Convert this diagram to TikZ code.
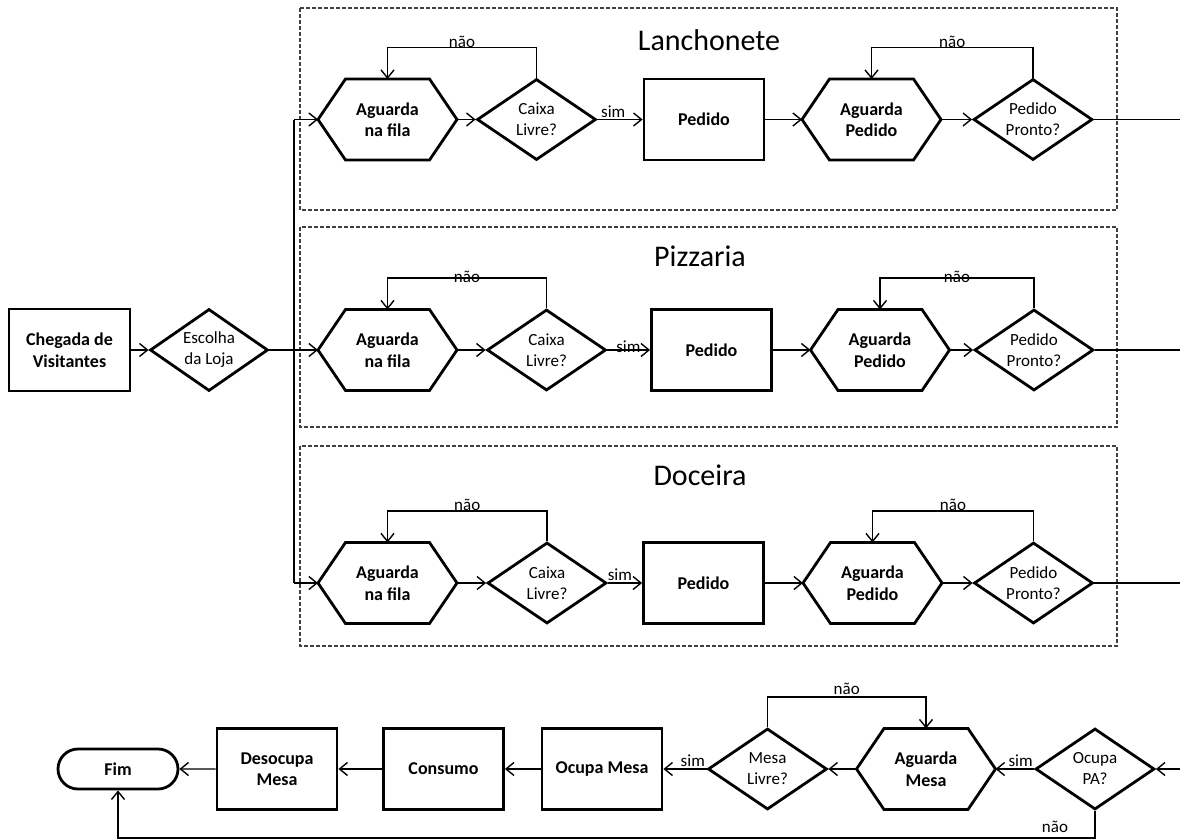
\documentclass[tikz,border=0pt]{standalone}
\usepackage{fontspec}
\setmainfont{Carlito}
\usetikzlibrary{shapes.geometric,shapes.misc,arrows.meta,calc}
\newcommand\fbold{\fontsize{18}{21.5}\selectfont\bfseries}
\newcommand\fplain{\fontsize{17}{21}\selectfont}
\newcommand\flabel{\fontsize{17}{19}\selectfont}
\newcommand\ftitle{\fontsize{30}{36}\selectfont}
\begin{document}
\begin{tikzpicture}[x=1pt,y=-1pt,
  shapeline/.style={line width=2.8pt, line join=miter},
  box/.style={draw, shapeline, rectangle, minimum width=120pt, minimum height=81pt,
    inner sep=0pt, align=center, font=\fbold},
  hexa/.style={rectangle, minimum width=139pt, minimum height=81pt, inner sep=0pt,
    outer sep=0pt, align=center, font=\fbold},
  decide/.style={draw, shapeline, diamond, aspect=1.5, minimum width=119pt,
    minimum height=81pt, inner sep=0pt, align=center, font=\fplain},
  term/.style={draw, shapeline, rounded rectangle, minimum width=120pt,
    minimum height=40pt, inner sep=0pt, font=\fbold},
  arr/.style={line width=1.4pt, -{Straight Barb[length=8pt,width=13pt]}},
  link/.style={line width=1.4pt},
  lbl/.style={font=\flabel, inner sep=0pt, anchor=base},
  group/.style={draw=black!75, line width=1.2pt, dash pattern=on 4pt off 2pt},
  title/.style={font=\ftitle, anchor=base, inner sep=0pt}
]
\useasboundingbox (0,0) rectangle (1180,838);

% store groups
\draw[group] (300,8) rectangle (1117,210);
\draw[group] (300,227) rectangle (1117,427);
\draw[group] (300,446) rectangle (1117,646);
\node[title] (tLan) at (709,50) {Lanchonete};
\node[title] (tPiz) at (700,266) {Pizzaria};
\node[title] (tDoc) at (700,485) {Doceira};

% arrival
\node[box, minimum width=121pt, minimum height=82pt] (cheg) at (69.5,350) {Chegada de\\Visitantes};
\node[decide, minimum width=118pt, minimum height=82pt] (esc) at (209,350) {Escolha\\da Loja};
\coordinate (bus) at (294,350);

% Lanchonete
\node[hexa] (lanA) at (387.5,119.5) {Aguarda\\na fila};
\node[decide] (lanC) at (536.5,119.5) {Caixa\\Livre?};
\node[box] (lanP) at (704,119.5) {Pedido};
\node[hexa] (lanG) at (871.5,119.5) {Aguarda\\Pedido};
\node[decide] (lanR) at (1033,119.5) {Pedido\\Pronto?};
\coordinate (lanOut) at (1180,119.5);

% Pizzaria
\node[hexa] (pizA) at (387.5,350) {Aguarda\\na fila};
\node[decide] (pizC) at (546.5,350) {Caixa\\Livre?};
\node[box] (pizP) at (711.5,350) {Pedido};
\node[hexa] (pizG) at (880,350) {Aguarda\\Pedido};
\node[decide] (pizR) at (1034,350) {Pedido\\Pronto?};
\coordinate (pizOut) at (1180,350);

% Doceira
\node[hexa] (docA) at (387.5,583) {Aguarda\\na fila};
\node[decide] (docC) at (547,583) {Caixa\\Livre?};
\node[box] (docP) at (703.5,583) {Pedido};
\node[hexa] (docG) at (872.5,583) {Aguarda\\Pedido};
\node[decide] (docR) at (1033.5,583) {Pedido\\Pronto?};
\coordinate (docOut) at (1180,583);

% tables and exit
\node[term] (fim) at (118,769) {Fim};
\node[box] (deso) at (277,769) {Desocupa\\Mesa};
\node[box] (cons) at (443.5,769) {Consumo};
\node[box] (ocme) at (602,769) {Ocupa Mesa};
\node[decide] (mesa) at (767.5,769) {Mesa\\Livre?};
\node[hexa] (agme) at (926,769) {Aguarda\\Mesa};
\node[decide] (ocpa) at (1095,769) {Ocupa\\PA?};
\coordinate (inB) at (1180,769);

% hexagon outlines
\foreach \h in {lanA,lanG,pizA,pizG,docA,docG,agme}{
  \draw[shapeline] ([xshift=27.5pt]\h.north west) -- ([xshift=-27.5pt]\h.north east)
    -- (\h.east) -- ([xshift=-27.5pt]\h.south east) -- ([xshift=27.5pt]\h.south west)
    -- (\h.west) -- cycle;
}

% arrival connectors
\draw[arr] (cheg) -- (esc);
\draw[arr] (esc.east) -- (pizA.west);
\draw[link] (bus) -- (bus |- lanA.west);
\draw[link] (bus) -- (bus |- docA.west);
\draw[arr] (bus |- lanA.west) -- (lanA.west);
\draw[arr] (bus |- docA.west) -- (docA.west);

% Lanchonete flow
\draw[arr] (lanA) -- (lanC);
\draw[arr] (lanC) -- (lanP) node[lbl, pos=0.35, yshift=2pt] {sim};
\draw[arr] (lanP) -- (lanG);
\draw[arr] (lanG) -- (lanR);
\draw[arr] (lanC.north) -- ++(0,-30) -| (lanA.north) node[lbl, pos=0.25, yshift=0.5pt] {não};
\draw[arr] (lanR.north) -- ++(0,-30) -| (lanG.north) node[lbl, pos=0.25, yshift=0.5pt] {não};
\draw[link] (lanR.east) -- (lanOut);

% Pizzaria flow
\draw[arr] (pizA) -- (pizC);
\draw[arr] (pizC) -- (pizP) node[lbl, pos=0.49, yshift=-2pt] {sim};
\draw[arr] (pizP) -- (pizG);
\draw[arr] (pizG) -- (pizR);
\draw[arr] (pizC.north) -- ++(0,-30) -| (pizA.north) node[lbl, pos=0.25, yshift=-4pt] {não};
\draw[arr] (pizR.north) -- ++(0,-30) -| (pizG.north) node[lbl, pos=0.25, yshift=-4pt] {não};
\draw[link] (pizR.east) -- (pizOut);

% Doceira flow
\draw[arr] (docA) -- (docC);
\draw[arr] (docC) -- (docP) node[lbl, pos=0.35, yshift=3pt] {sim};
\draw[arr] (docP) -- (docG);
\draw[arr] (docG) -- (docR);
\draw[arr] (docC.north) -- ++(0,-30) -| (docA.north) node[lbl, pos=0.25, yshift=0.5pt] {não};
\draw[arr] (docR.north) -- ++(0,-30) -| (docG.north) node[lbl, pos=0.25, yshift=0.5pt] {não};
\draw[link] (docR.east) -- (docOut);

% table flow
\draw[arr] (inB) -- (ocpa.east);
\draw[arr] (ocpa.west) -- (agme.east) node[lbl, pos=0.35, yshift=3pt] {sim};
\draw[arr] (agme.west) -- (mesa.east);
\draw[arr] (mesa.west) -- (ocme.east) node[lbl, pos=0.32, yshift=3pt] {sim};
\draw[arr] (ocme) -- (cons);
\draw[arr] (cons) -- (deso);
\draw[arr] (deso) -- (fim);
\draw[arr] (mesa.north) -- ++(0,-30) -| (agme.north) node[lbl, pos=0.25, yshift=3pt] {não};
\draw[arr] (ocpa.south) -- ++(0,27) coordinate (nb) -| (fim.south);
\node[lbl] (nPA) at ($(nb)+(-40,-5)$) {não};
\end{tikzpicture}
\end{document}
